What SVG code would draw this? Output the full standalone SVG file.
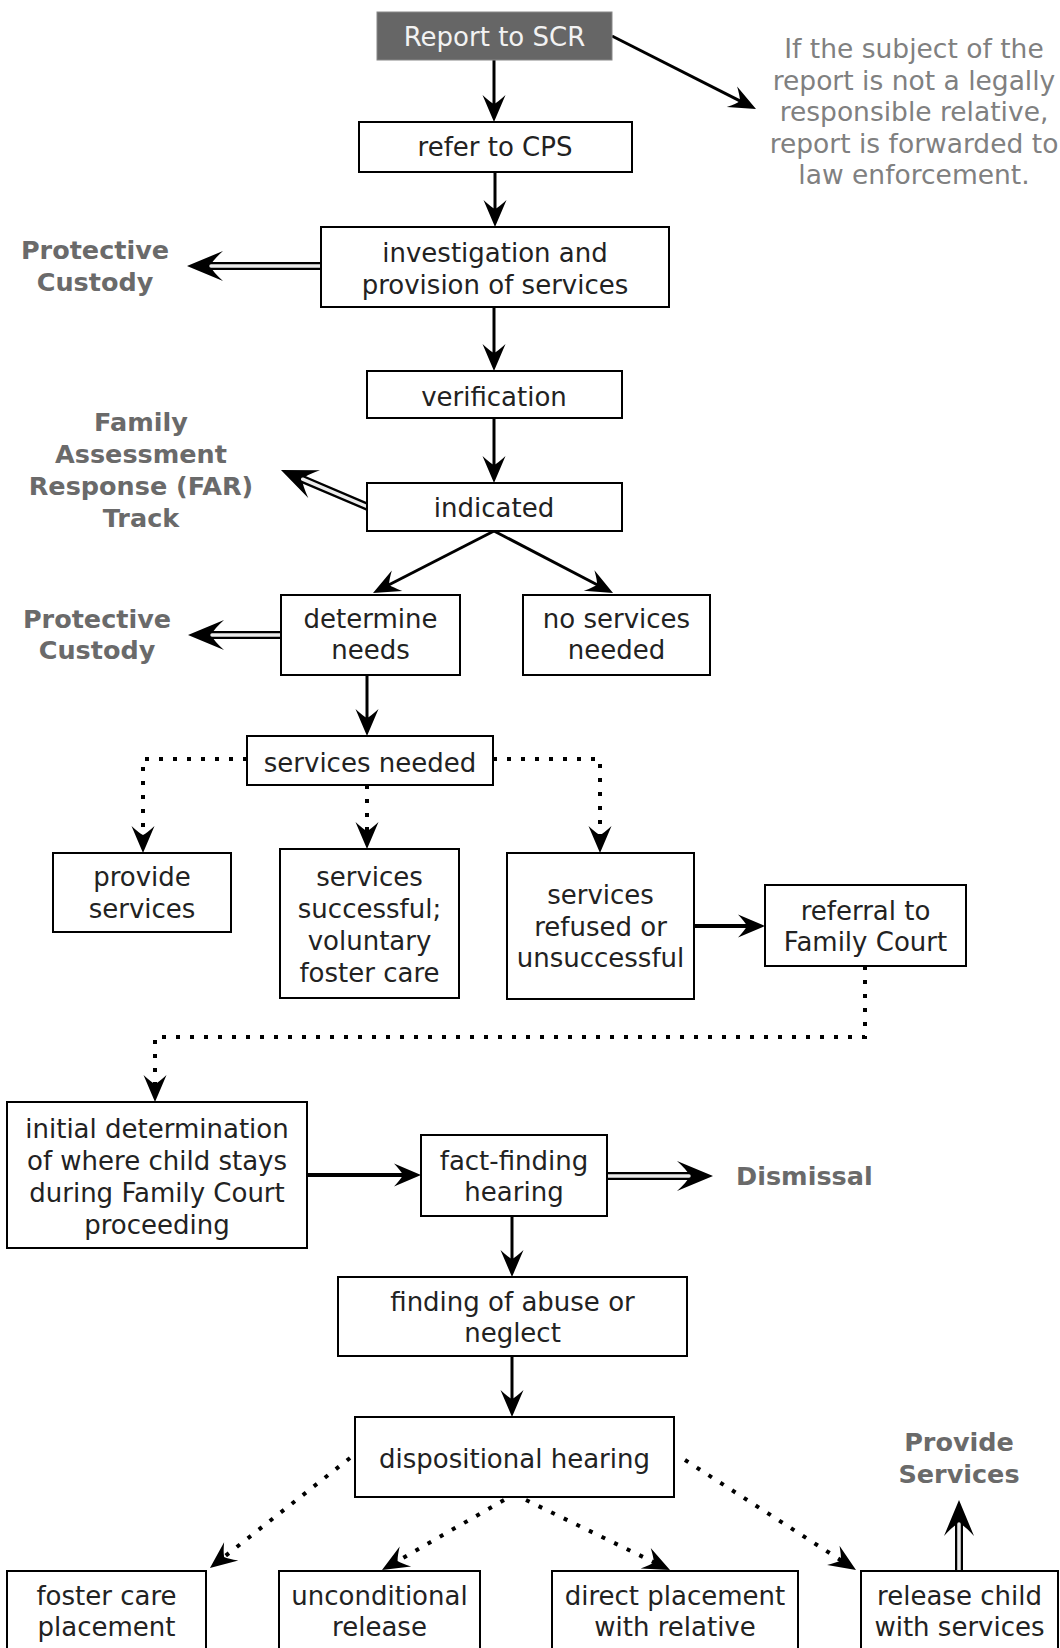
<svg xmlns="http://www.w3.org/2000/svg" width="1060" height="1648" viewBox="0 0 1060 1648">
<style>
.bg{fill:#fff}
.box{fill:#fff;stroke:#000;stroke-width:2}
.dark{fill:#666;stroke:#888;stroke-width:1}
text{font-family:"DejaVu Sans",Verdana,sans-serif;font-size:26px;text-anchor:middle;fill:#222}
.wt{fill:#f2f2f2}
.note{fill:#808080;font-size:26.5px}
.lbl{font-weight:bold;fill:#6a6a6a;font-size:25.5px}
.ln{fill:none;stroke:#000;stroke-width:3}
.dot{stroke-dasharray:4 10;stroke-width:4}
.dblo{fill:none;stroke:#000;stroke-width:8;stroke-linecap:round}
.dbli{fill:none;stroke:#ececec;stroke-width:3.5;stroke-linecap:round}
</style>
<defs>
<marker id="ah" markerUnits="userSpaceOnUse" viewBox="-30 -14 32 28" refX="-12" refY="0" markerWidth="32" markerHeight="28" orient="auto" overflow="visible">
<path d="M0,0 L-27,-11.5 Q-20,-4 -18,0 Q-20,4 -27,11.5 Z" fill="#000"/>
</marker>
<marker id="ahd" markerUnits="userSpaceOnUse" viewBox="-40 -17 42 34" refX="-16" refY="0" markerWidth="42" markerHeight="34" orient="auto" overflow="visible">
<path d="M0,0 L-36,-15 Q-26,-6 -23,0 Q-26,6 -36,15 Z" fill="#000"/>
</marker>
</defs>
<rect class="bg" x="0" y="0" width="1060" height="1648"/>

<g id="connectors">
<path class="ln" d="M494,60 L494,110" marker-end="url(#ah)"/>
<path class="ln" d="M612,36 L745.3,103.6" marker-end="url(#ah)"/>
<path class="ln" d="M495,172 L495,215" marker-end="url(#ah)"/>
<path class="ln" d="M494,307 L494,359" marker-end="url(#ah)"/>
<path class="ln" d="M494,418 L494,471" marker-end="url(#ah)"/>
<path class="ln" d="M494,531 L383.7,587.5" marker-end="url(#ah)"/>
<path class="ln" d="M494,531 L602.4,587.5" marker-end="url(#ah)"/>
<path class="ln" d="M367,675 L367,724" marker-end="url(#ah)"/>
<path class="ln dot" d="M247,759 L143,759 L143,841" marker-end="url(#ah)"/>
<path class="ln dot" d="M367,785 L367,837" marker-end="url(#ah)"/>
<path class="ln dot" d="M493,759 L600,759 L600,841" marker-end="url(#ah)"/>
<path class="ln" style="stroke-width:4" d="M694,926 L753,926" marker-end="url(#ah)"/>
<path class="ln dot" d="M865,966 L865,1037 L155,1037 L155,1090" marker-end="url(#ah)"/>
<path class="ln" style="stroke-width:4" d="M307,1175 L409,1175" marker-end="url(#ah)"/>
<path class="ln" d="M512,1216 L512,1265" marker-end="url(#ah)"/>
<path class="ln" d="M512,1356 L512,1405" marker-end="url(#ah)"/>
<path class="ln dot" d="M350,1458 L219.4,1560.6" marker-end="url(#ah)"/>
<path class="ln dot" d="M504,1500 L392.4,1564" marker-end="url(#ah)"/>
<path class="ln dot" d="M526,1500 L659.2,1564.8" marker-end="url(#ah)"/>
<path class="ln dot" d="M685,1460 L845.9,1563.5" marker-end="url(#ah)"/>
<!-- double (hollow) arrows -->
<path class="dblo" d="M321,266 L203,266" marker-end="url(#ahd)"/>
<path class="dbli" d="M321,266 L211,266"/>
<path class="dblo" d="M368,507 L295.7,476.3" marker-end="url(#ahd)"/>
<path class="dbli" d="M368,507 L302.7,479.2"/>
<path class="dblo" d="M281,635 L204,635" marker-end="url(#ahd)"/>
<path class="dbli" d="M281,635 L212,635"/>
<path class="dblo" d="M607,1176 L697,1176" marker-end="url(#ahd)"/>
<path class="dbli" d="M607,1176 L689,1176"/>
<path class="dblo" d="M959,1572 L959,1516" marker-end="url(#ahd)"/>
<path class="dbli" d="M959,1572 L959,1524"/>
</g>

<g id="n-report"><rect class="dark" x="377" y="12" width="235" height="48"/><text class="wt" x="494.5" y="46">Report to SCR</text></g>
<g id="n-note"><text class="note" x="914" y="58">If the subject of the</text><text class="note" x="914" y="89.5">report is not a legally</text><text class="note" x="914" y="121">responsible relative,</text><text class="note" x="914" y="152.5">report is forwarded to</text><text class="note" x="914" y="184">law enforcement.</text></g>
<g id="n-cps"><rect class="box" x="359" y="122" width="273" height="50"/><text x="495" y="156">refer to CPS</text></g>
<g id="n-invest"><rect class="box" x="321" y="227" width="348" height="80"/><text x="495" y="262">investigation and</text><text x="495" y="294">provision of services</text></g>
<g id="n-pc1"><text class="lbl" x="95" y="259">Protective</text><text class="lbl" x="95" y="291">Custody</text></g>
<g id="n-verif"><rect class="box" x="367" y="371" width="255" height="47"/><text x="494" y="406">verification</text></g>
<g id="n-far"><text class="lbl" x="141" y="431">Family</text><text class="lbl" x="141" y="463">Assessment</text><text class="lbl" x="141" y="495">Response (FAR)</text><text class="lbl" x="141" y="527">Track</text></g>
<g id="n-indicated"><rect class="box" x="367" y="483" width="255" height="48"/><text x="494" y="517">indicated</text></g>
<g id="n-determine"><rect class="box" x="281" y="595" width="179" height="80"/><text x="370.5" y="628">determine</text><text x="370.5" y="659">needs</text></g>
<g id="n-pc2"><text class="lbl" x="97" y="628">Protective</text><text class="lbl" x="97" y="659">Custody</text></g>
<g id="n-noserv"><rect class="box" x="523" y="595" width="187" height="80"/><text x="616.5" y="628">no services</text><text x="616.5" y="659">needed</text></g>
<g id="n-needed"><rect class="box" x="247" y="736" width="246" height="49"/><text x="370" y="772">services needed</text></g>
<g id="n-provide"><rect class="box" x="53" y="853" width="178" height="79"/><text x="142" y="886">provide</text><text x="142" y="918">services</text></g>
<g id="n-success"><rect class="box" x="280" y="849" width="179" height="149"/><text x="369.5" y="886">services</text><text x="369.5" y="918">successful;</text><text x="369.5" y="950">voluntary</text><text x="369.5" y="982">foster care</text></g>
<g id="n-refused"><rect class="box" x="507" y="853" width="187" height="146"/><text x="600.5" y="904">services</text><text x="600.5" y="936">refused or</text><text x="600.5" y="967">unsuccessful</text></g>
<g id="n-referral"><rect class="box" x="765" y="885" width="201" height="81"/><text x="865.5" y="920">referral to</text><text x="865.5" y="951">Family Court</text></g>
<g id="n-initial"><rect class="box" x="7" y="1102" width="300" height="146"/><text x="157" y="1138">initial determination</text><text x="157" y="1170">of where child stays</text><text x="157" y="1202">during Family Court</text><text x="157" y="1234">proceeding</text></g>
<g id="n-fact"><rect class="box" x="421" y="1135" width="186" height="81"/><text x="514" y="1170">fact-finding</text><text x="514" y="1201">hearing</text></g>
<g id="n-dismissal"><text class="lbl" x="736" y="1185" style="text-anchor:start">Dismissal</text></g>
<g id="n-finding"><rect class="box" x="338" y="1277" width="349" height="79"/><text x="512.5" y="1311">finding of abuse or</text><text x="512.5" y="1342">neglect</text></g>
<g id="n-disp"><rect class="box" x="355" y="1417" width="319" height="80"/><text x="514.5" y="1468">dispositional hearing</text></g>
<g id="n-provserv"><text class="lbl" x="959" y="1451">Provide</text><text class="lbl" x="959" y="1483">Services</text></g>
<g id="n-foster"><rect class="box" x="7" y="1571" width="199" height="90"/><text x="106.5" y="1605">foster care</text><text x="106.5" y="1636">placement</text></g>
<g id="n-uncond"><rect class="box" x="279" y="1571" width="201" height="90"/><text x="379.5" y="1605">unconditional</text><text x="379.5" y="1636">release</text></g>
<g id="n-direct"><rect class="box" x="552" y="1571" width="246" height="90"/><text x="675" y="1605">direct placement</text><text x="675" y="1636">with relative</text></g>
<g id="n-release"><rect class="box" x="861" y="1571" width="197" height="90"/><text x="959.5" y="1605">release child</text><text x="959.5" y="1636">with services</text></g>
</svg>
